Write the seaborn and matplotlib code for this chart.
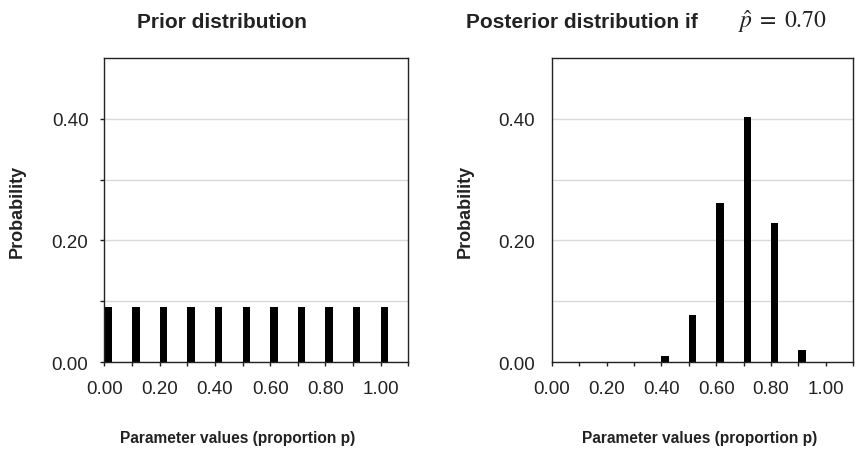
import matplotlib
matplotlib.use("Agg")
import matplotlib.pyplot as plt
import seaborn as sns
import pandas as pd

# Parameter grid (proportion p) and the probability attached to each value
p_values = [0.0, 0.1, 0.2, 0.3, 0.4, 0.5, 0.6, 0.7, 0.8, 0.9, 1.0]
prior_prob = [0.091, 0.091, 0.091, 0.091, 0.091, 0.091, 0.091, 0.091, 0.091, 0.091, 0.091]
posterior_prob = [0.0, 0.0, 0.0, 0.0, 0.010, 0.078, 0.261, 0.403, 0.229, 0.019, 0.0]

x_tick_values = [0.0, 0.1, 0.2, 0.3, 0.4, 0.5, 0.6, 0.7, 0.8, 0.9, 1.0, 1.1]
x_tick_labels = ["0.00", "", "0.20", "", "0.40", "", "0.60", "", "0.80", "", "1.00", ""]
y_tick_values = [0.0, 0.1, 0.2, 0.3, 0.4]
y_tick_labels = ["0.00", "", "0.20", "", "0.40"]

sns.set_style("white")
plt.rcParams["font.family"] = ["Liberation Sans", "DejaVu Sans"]
plt.rcParams["mathtext.fontset"] = "stix"

BAR_W = 0.027
TEXT = "#222222"
PX = 72 / 100  # points per pixel at 100 dpi

fig = plt.figure(figsize=(8.64, 4.56), dpi=100)
ax1 = fig.add_axes([0.1209, 0.2039, 0.3516, 0.6667])
ax2 = fig.add_axes([0.6385, 0.2039, 0.3491, 0.6667])


def draw(ax, probs, ytick_len, ytick_pad, xlabel_x, ylabel_x):
    # bars sit at the left edge of each 0.1-wide slot
    df = pd.DataFrame({"x": [v + BAR_W / 2 for v in p_values], "prob": probs})
    sns.barplot(data=df, x="x", y="prob", native_scale=True, width=BAR_W / 0.1,
                color="black", saturation=1, errorbar=None, ax=ax,
                edgecolor="none", linewidth=0)
    ax.set_xlim(0, 1.1)
    ax.set_ylim(0, 0.5)
    ax.set_xticks(x_tick_values)
    ax.set_xticklabels(x_tick_labels)
    ax.set_yticks(y_tick_values)
    ax.set_yticklabels(y_tick_labels)
    ax.yaxis.grid(True, color="#d9d9d9", linewidth=1.0)
    ax.xaxis.grid(False)
    ax.set_axisbelow(True)
    for s in ax.spines.values():
        s.set_visible(True)
        s.set_color("#222222")
        s.set_linewidth(1.0)
    ax.tick_params(axis="x", direction="out", length=4 * PX, width=1, color="#222222",
                   pad=14 * PX, labelsize=13.5, labelcolor=TEXT, bottom=True)
    ax.tick_params(axis="y", direction="out", length=ytick_len * PX, width=1, color="#222222",
                   pad=ytick_pad * PX, labelsize=13.5, labelcolor=TEXT, left=True)
    ax.set_xlabel("Parameter values (proportion p)", fontsize=11.2, fontweight="bold",
                  color=TEXT)
    ax.xaxis.set_label_coords(xlabel_x, -0.225)
    ax.set_ylabel("Probability", fontsize=13, fontweight="bold", color=TEXT)
    ax.yaxis.set_label_coords(ylabel_x, 0.5)


draw(ax1, prior_prob, 4, 12, 0.437, -0.258)
draw(ax2, posterior_prob, 0, 17, 0.49, -0.257)

fig.text(221.7 / 864, 1 - 28.3 / 456, "Prior distribution", ha="center", va="baseline",
         fontsize=15, fontweight="bold", color=TEXT)
fig.text(466 / 864, 1 - 28.3 / 456, "Posterior distribution if", ha="left", va="baseline",
         fontsize=15, fontweight="bold", color=TEXT)
fig.text(738 / 864, 1 - 28.3 / 456, r"$\hat{p}\;=\;\mathrm{0.70}$", ha="left", va="baseline",
         fontsize=17, color=TEXT)

fig.savefig("out.png", dpi=100, facecolor="white")
